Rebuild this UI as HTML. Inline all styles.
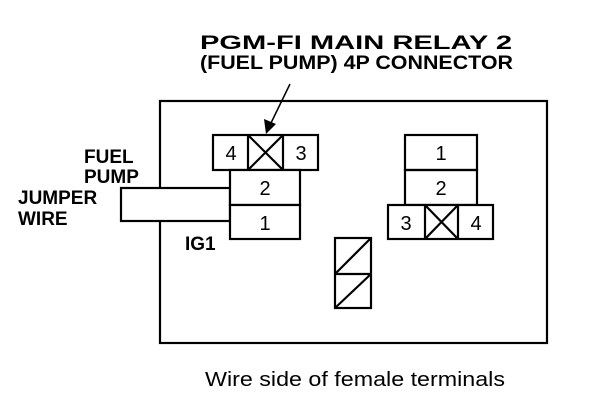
<!DOCTYPE html>
<html><head><meta charset="utf-8"><style>
body{margin:0;background:#fff;}
svg{display:block}
.b{font-family:"Liberation Sans",sans-serif;font-weight:bold;font-size:19px;fill:#000}
.n{font-family:"Liberation Sans",sans-serif;font-size:20px;fill:#000}
</style></head><body>
<svg width="608" height="408" viewBox="0 0 608 408" xmlns="http://www.w3.org/2000/svg">
<g fill="none" stroke="#000" stroke-width="2.2">
<rect x="160" y="101" width="387" height="242"/>
<rect x="121" y="188" width="109" height="33" fill="#fff"/>
<rect x="213" y="135" width="105" height="35" fill="#fff"/>
<line x1="248" y1="135" x2="248" y2="170"/><line x1="283" y1="135" x2="283" y2="170"/>
<line x1="248" y1="135" x2="283" y2="170"/><line x1="283" y1="135" x2="248" y2="170"/>
<rect x="230" y="170" width="70" height="35" fill="#fff"/>
<rect x="230" y="205" width="70" height="34" fill="#fff"/>
<rect x="405" y="135" width="72" height="35"/>
<rect x="405" y="170" width="72" height="35"/>
<rect x="388" y="205" width="105" height="34" fill="#fff"/>
<line x1="425" y1="205" x2="425" y2="239"/><line x1="458" y1="205" x2="458" y2="239"/>
<line x1="425" y1="205" x2="458" y2="239"/><line x1="458" y1="205" x2="425" y2="239"/>
<rect x="335" y="238" width="36" height="70"/>
<line x1="335" y1="274" x2="371" y2="274"/>
<line x1="335" y1="274" x2="371" y2="238"/><line x1="335" y1="308" x2="371" y2="274"/>
<line x1="290" y1="84" x2="270" y2="125" stroke-width="1.5"/>
</g>
<polygon points="266,134 264,119 276,124" fill="#000"/>
<text class="b" x="200" y="49" font-size="21" textLength="312" lengthAdjust="spacingAndGlyphs">PGM-FI MAIN RELAY 2</text>
<text class="b" x="200" y="69" font-size="21" textLength="313" lengthAdjust="spacingAndGlyphs">(FUEL PUMP) 4P CONNECTOR</text>
<text class="b" x="84" y="163">FUEL</text>
<text class="b" x="84" y="183">PUMP</text>
<text class="b" x="18" y="204">JUMPER</text>
<text class="b" x="18" y="225">WIRE</text>
<text class="b" x="185" y="250">IG1</text>
<g class="n" text-anchor="middle">
<text x="231" y="160">4</text><text x="301" y="160">3</text>
<text x="265" y="195">2</text><text x="265" y="230">1</text>
<text x="441" y="160">1</text><text x="441" y="195">2</text>
<text x="406" y="230">3</text><text x="476" y="230">4</text>
</g>
<text class="n" x="205" y="386" font-size="19" textLength="300" lengthAdjust="spacingAndGlyphs">Wire side of female terminals</text>
</svg>
</body></html>
